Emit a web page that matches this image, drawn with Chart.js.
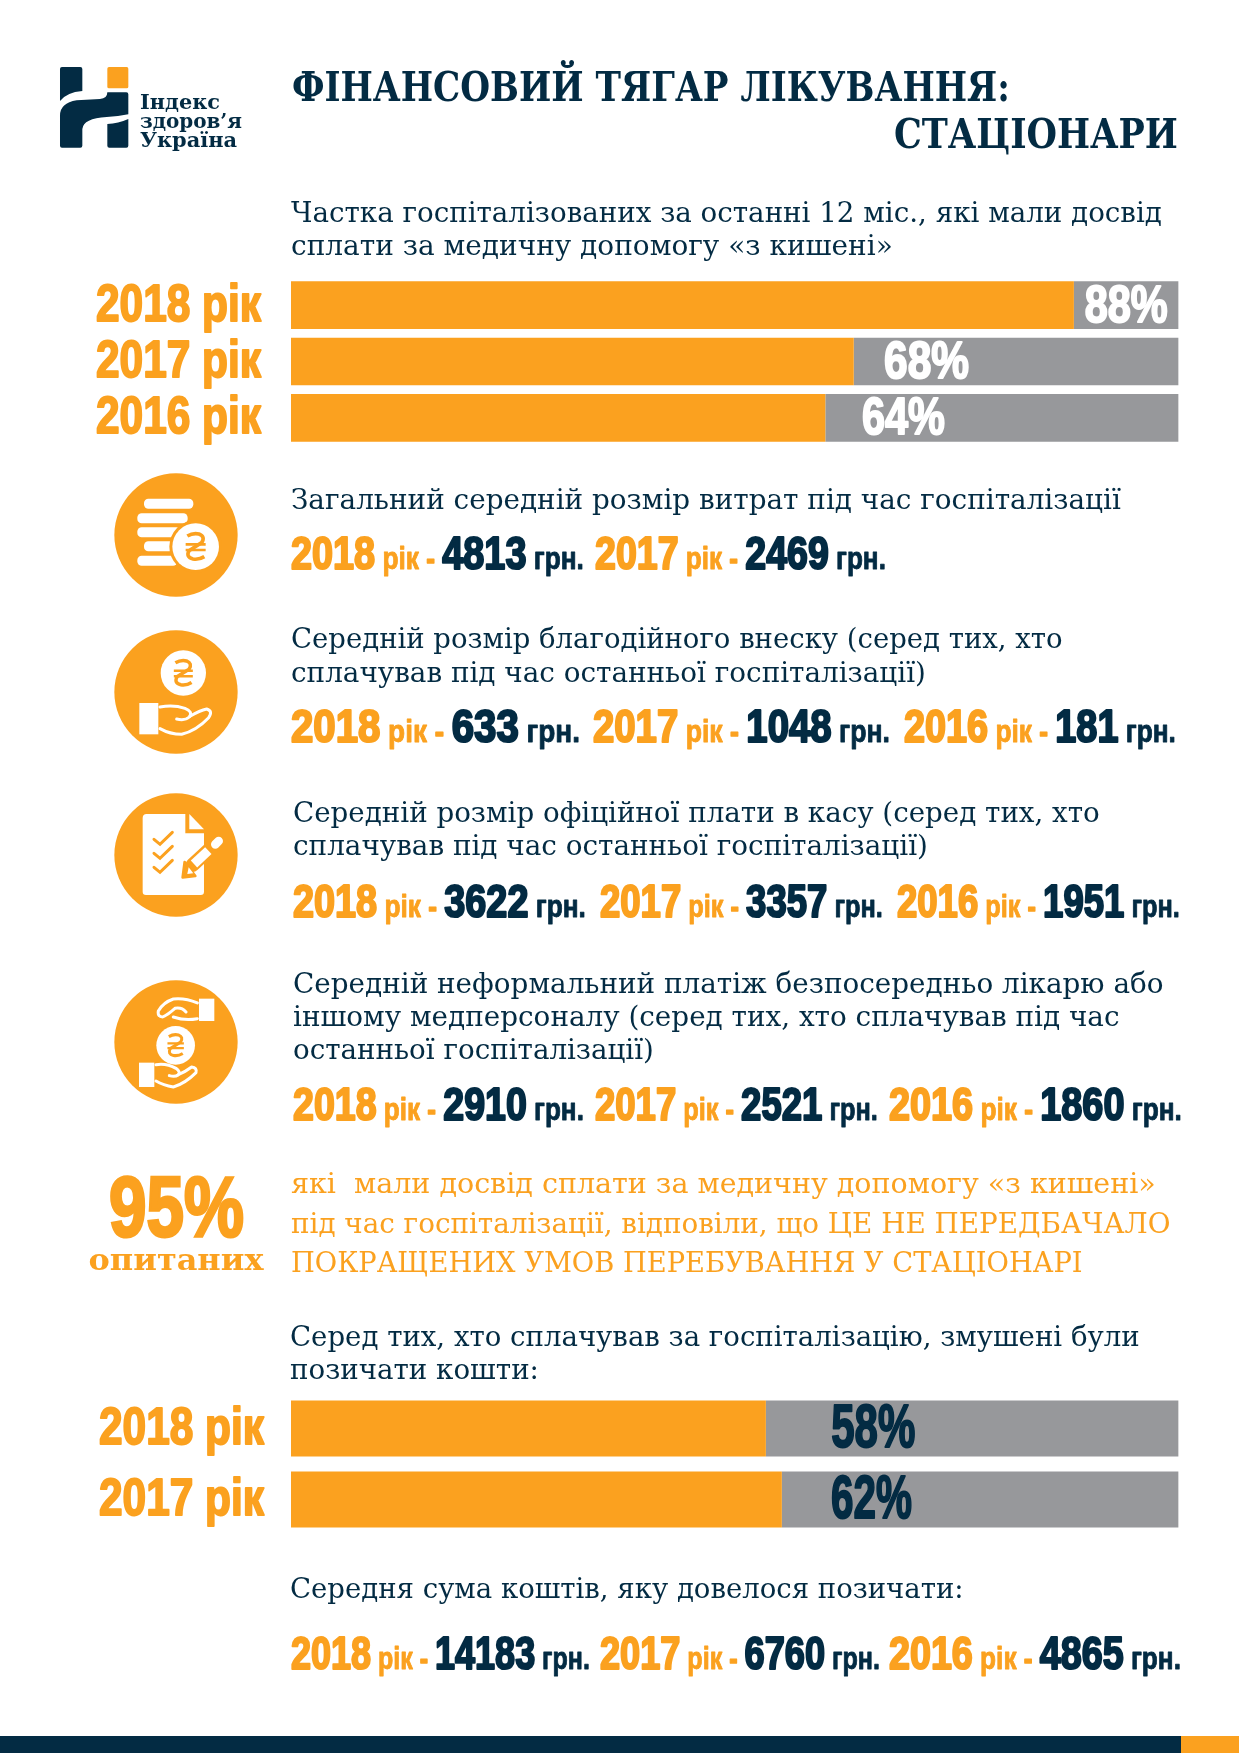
<!DOCTYPE html>
<html lang="uk"><head><meta charset="utf-8"><title>Фінансовий тягар лікування: стаціонари</title>
<script src="https://cdn.jsdelivr.net/npm/chart.js@4"></script>
<style>
html,body{margin:0;padding:0;background:#fff;width:1239px;height:1753px;overflow:hidden}
canvas{position:absolute;left:0;display:block}
#page{position:absolute;left:0;top:0;width:1239px;height:1753px;pointer-events:none}
</style></head><body>
<canvas id="shareChart" width="1239" height="169" style="top:277px"></canvas>
<canvas id="borrowChart" width="1239" height="142" style="top:1393px"></canvas>
<svg id="page" xmlns="http://www.w3.org/2000/svg" viewBox="0 0 1239 1753"></svg>
<script>
/* ---------- data ---------- */
const shareCategories = ['2018 рік', '2017 рік', '2016 рік'];
const sharePaidBar    = [88.2, 63.4, 60.2];
const shareRestBar    = [11.8, 36.6, 39.8];
const shareLabels     = ['88%', '68%', '64%'];

const borrowCategories = ['2018 рік', '2017 рік'];
const borrowPaidBar    = [53.5, 55.3];
const borrowRestBar    = [46.5, 44.7];
const borrowLabels     = ['58%', '62%'];

const totalYears     = ['2018', '2017'];
const totalCosts     = ['4813', '2469'];
const charityYears   = ['2018', '2017', '2016'];
const charityCosts   = ['633', '1048', '181'];
const officialYears  = ['2018', '2017', '2016'];
const officialCosts  = ['3622', '3357', '1951'];
const informalYears  = ['2018', '2017', '2016'];
const informalCosts  = ['2910', '2521', '1860'];
const borrowedYears  = ['2018', '2017', '2016'];
const borrowedCosts  = ['14183', '6760', '4865'];

/* ---------- styles ---------- */
const ORANGE = '#FBA11F', NAVY = '#032B43', GREY = '#97989B';
const HEAVY = "'Liberation Sans',sans-serif";
const SERIF = "'DejaVu Serif Condensed','DejaVu Serif',serif";

/* ---------- charts ---------- */
function squeezed(ctx, text, x, y, width, size, color, stroke, align) {
  ctx.save();
  ctx.font = 'bold ' + size + 'px ' + HEAVY;
  const sx = width / ctx.measureText(text).width;
  ctx.translate(x, y);
  ctx.scale(sx, 1);
  ctx.textAlign = align;
  ctx.textBaseline = 'middle';
  ctx.fillStyle = color;
  ctx.strokeStyle = color;
  ctx.lineWidth = stroke;
  ctx.lineJoin = 'round';
  ctx.strokeText(text, 0, 0);
  ctx.fillText(text, 0, 0);
  ctx.restore();
}
/* the condensed display face has to be drawn squeezed: labels come from the scale and dataset options */
const barLabels = {
  id: 'barLabels',
  afterDatasetsDraw(chart, args, o) {
    const ctx = chart.ctx, xs = chart.scales.x, ys = chart.scales.y;
    ys.ticks.forEach((tick, i) => {
      const y = ys.getPixelForTick(i);
      squeezed(ctx, ys.getLabelForValue(tick.value), o.tickRight, y + 1, 165, 52, ORANGE, 2, 'right');
      squeezed(ctx, o.texts[i], xs.getPixelForValue(o.at[i]), y + 2, o.widths[i], o.size, o.color, 2, 'center');
    });
  }
};
function stackedBar(id, cats, paid, rest, barPct, lab) {
  new Chart(document.getElementById(id), {
    type: 'bar',
    data: { labels: cats, datasets: [
      { data: paid, backgroundColor: ORANGE, barPercentage: barPct, categoryPercentage: 1 },
      { data: rest, backgroundColor: GREY,   barPercentage: barPct, categoryPercentage: 1 }
    ]},
    plugins: [barLabels],
    options: {
      indexAxis: 'y', responsive: false, animation: false, devicePixelRatio: 1,
      layout: { padding: { left: 0, right: 60.4, top: 0, bottom: 0 } },
      plugins: { legend: { display: false }, tooltip: { enabled: false }, barLabels: lab },
      scales: {
        x: { display: false, stacked: true, min: 0, max: 100 },
        y: { stacked: true, grid: { display: false, drawTicks: false }, border: { display: false },
             afterFit(s) { s.width = 291; s.paddingTop = 0; s.paddingBottom = 0; },
             ticks: { autoSkip: false, display: false } }
      }
    }
  });
}
stackedBar('shareChart', shareCategories, sharePaidBar, shareRestBar, 0.846,
  { tickRight: 261, texts: shareLabels, at: [94.1, 71.6, 69.0], widths: [83, 85, 83], size: 52, color: '#fff' });
stackedBar('borrowChart', borrowCategories, borrowPaidBar, borrowRestBar, 0.789,
  { tickRight: 264, texts: borrowLabels, at: [65.6, 65.4], widths: [84, 81], size: 61, color: NAVY });

/* ---------- page furniture ---------- */
const svg = document.getElementById('page'), NS = 'http://www.w3.org/2000/svg';
function el(name, attrs, parent) {
  const n = document.createElementNS(NS, name);
  for (const k in attrs) n.setAttribute(k, attrs[k]);
  (parent || svg).appendChild(n);
  return n;
}
/* text fitted to a measured width */
function line(text, x, base, w, opt) {
  opt = opt || {};
  const g = el('g', {});
  const t = el('text', { x: 0, y: 0, 'font-family': opt.family || SERIF, 'font-size': opt.size || 28,
    'font-weight': opt.weight || 'normal', fill: opt.color || NAVY }, g);
  t.style.whiteSpace = 'pre';
  t.textContent = text;
  const sx = w / t.getComputedTextLength();
  g.setAttribute('transform', 'translate(' + x + ' ' + base + ') scale(' + sx + ' 1)');
  return t;
}
/* several stacked lines kept in one text element, each fitted to a width */
function stack(rows, opt) {
  const t = el('text', { 'font-family': SERIF, 'font-weight': 'bold', fill: opt.color });
  t.style.whiteSpace = 'pre';
  rows.forEach(r => {
    const s = el('tspan', { x: r.x, y: r.base, 'font-size': r.size, 'font-family': r.family || SERIF,
      textLength: r.w, lengthAdjust: 'spacingAndGlyphs' }, t);
    if (r.stroke) { s.setAttribute('stroke', opt.color); s.setAttribute('stroke-width', r.stroke); }
    s.textContent = r.text;
  });
}
/* "2018 рік - 4813 грн." fitted block */
function stat(year, value, x, base, w) {
  const g = el('g', {});
  const t = el('text', { x: 0, y: 0, 'font-family': HEAVY, 'font-weight': 'bold', 'stroke-linejoin': 'round' }, g);
  t.style.whiteSpace = 'pre';
  [[year, 46, ORANGE, 2.2], [' рік', 32, ORANGE, 0.9], [' - ', 32, ORANGE, 1.4],
   [value, 46, NAVY, 2.2], [' грн.', 32, NAVY, 0.9]].forEach(p => {
    const s = el('tspan', { 'font-size': p[1], fill: p[2], stroke: p[2], 'stroke-width': p[3] }, t);
    s.textContent = p[0];
  });
  const sx = w / t.getComputedTextLength();
  g.setAttribute('transform', 'translate(' + x + ' ' + base + ') scale(' + sx + ' 1)');
}
function statRow(years, values, spans, base) {
  years.forEach((y, i) => stat(y, values[i], spans[i][0], base, spans[i][1] - spans[i][0]));
}

/* footer */
el('rect', { x: 0, y: 1736, width: 1181, height: 17, fill: NAVY });
el('rect', { x: 1181, y: 1736, width: 58, height: 17, fill: ORANGE });

/* logo */
const logo = el('g', { transform: 'translate(50 55) scale(0.3333)' });
el('path', { fill: NAVY, d: 'M30 42Q30 36 36 36H91Q97 36 97 42V108Q50 112 30 138Z' }, logo);
el('path', { fill: NAVY, d: 'M172 112H229Q235 112 235 118V178Q205 184 170 186Q100 190 97 222V272Q97 278 91 278H36Q30 278 30 272V182Q30 144 80 136L150 132Q172 130 172 112Z' }, logo);
el('path', { fill: NAVY, d: 'M172 207Q205 205 235 192V272Q235 278 229 278H178Q172 278 172 272Z' }, logo);
el('rect', { x: 172, y: 36, width: 63, height: 64, rx: 5, fill: ORANGE }, logo);
stack([
  { text: 'Індекс',   x: 140, base: 109,   w: 80,  size: 21 },
  { text: 'здоров’я', x: 140, base: 127.5, w: 102, size: 21 },
  { text: 'Україна',  x: 140, base: 146.5, w: 97,  size: 21 }
], { color: NAVY });

/* title */
line('ФІНАНСОВИЙ ТЯГАР ЛІКУВАННЯ:', 292, 101, 718, { size: 41, weight: 'bold' });
line('СТАЦІОНАРИ', 894, 148, 284, { size: 41, weight: 'bold' });

/* section texts */
line('Частка госпіталізованих за останні 12 міс., які мали досвід', 291, 222, 871);
line('сплати за медичну допомогу «з кишені»', 291, 255, 602);

line('Загальний середній розмір витрат під час госпіталізації', 291, 509, 830);
statRow(totalYears, totalCosts, [[291, 584], [595, 886]], 569);

line('Середній розмір благодійного внеску (серед тих, хто', 291, 648, 772);
line('сплачував під час останньої госпіталізації)', 291, 681.5, 635);
statRow(charityYears, charityCosts, [[291, 580], [593, 890], [904, 1176]], 742);

line('Середній розмір офіційної плати в касу (серед тих, хто', 293, 822, 807);
line('сплачував під час останньої госпіталізації)', 293, 854.5, 635);
statRow(officialYears, officialCosts, [[293, 586], [600, 883], [897, 1180]], 917);

line('Середній неформальний платіж безпосередньо лікарю або', 293, 993, 871);
line('іншому медперсоналу (серед тих, хто сплачував під час', 293, 1026, 827);
line('останньої госпіталізації)', 293, 1059, 361);
statRow(informalYears, informalCosts, [[293, 584], [595, 878], [889, 1182]], 1120);

/* 95 % block */
stack([
  { text: '95%', x: 109, base: 1236, w: 135, size: 86, family: HEAVY, stroke: 3 },
  { text: 'опитаних', x: 88.5, base: 1270, w: 175, size: 30 }
], { color: ORANGE });
line('які  мали досвід сплати за медичну допомогу «з кишені»', 291, 1193, 865, { color: ORANGE });
line('під час госпіталізації, відповіли, що ЦЕ НЕ ПЕРЕДБАЧАЛО', 291, 1233, 880, { color: ORANGE });
line('ПОКРАЩЕНИХ УМОВ ПЕРЕБУВАННЯ У СТАЦІОНАРІ', 291, 1272, 792, { color: ORANGE });

line('Серед тих, хто сплачував за госпіталізацію, змушені були', 290, 1346, 850);
line('позичати кошти:', 290, 1379, 249);
line('Середня сума коштів, яку довелося позичати:', 290, 1598, 674);
statRow(borrowedYears, borrowedCosts, [[291, 590], [600, 880], [889, 1181]], 1669);

/* round icons: drawn in a 390-unit box, 130px on the page */
function icon(x, y) {
  const g = el('g', { transform: 'translate(' + x + ' ' + y + ') scale(0.3333)' });
  el('circle', { cx: 198, cy: 195, r: 185, fill: ORANGE }, g);
  return g;
}
function hryvnia(g, cx, cy, k) {
  const h = el('g', { transform: 'translate(' + cx + ' ' + cy + ') scale(' + k + ')', fill: 'none', stroke: ORANGE, 'stroke-width': 11 }, g);
  el('path', { d: 'M-25 -32Q-8 -42 10 -38Q30 -30 18 -12L-20 12Q-30 32 -8 37Q10 40 26 30' }, h);
  el('path', { d: 'M-30 -7H30M-30 10H30', 'stroke-width': 8 }, h);
}
function hand(g, d1, d2) {
  el('path', { d: d1, fill: 'none', stroke: '#fff', 'stroke-width': 9, 'stroke-linejoin': 'round', 'stroke-linecap': 'round' }, g);
  if (d2) el('path', { d: d2, fill: 'none', stroke: '#fff', 'stroke-width': 9, 'stroke-linejoin': 'round', 'stroke-linecap': 'round' }, g);
}
/* coins */
let g = icon(110, 470);
[[102, 86, 148], [82, 130, 151], [82, 172, 130], [102, 214, 90], [82, 257, 120]].forEach(b =>
  el('rect', { x: b[0], y: b[1], width: b[2], height: 30, rx: 13, fill: '#fff' }, g));
el('circle', { cx: 257, cy: 230, r: 79, fill: ORANGE }, g);
el('circle', { cx: 257, cy: 230, r: 70, fill: '#fff' }, g);
hryvnia(g, 257, 230, 1);
/* hand with coin */
g = icon(110, 627);
el('circle', { cx: 220, cy: 138, r: 68, fill: '#fff' }, g);
hryvnia(g, 220, 138, 0.95);
el('rect', { x: 88, y: 228, width: 57, height: 94, fill: '#fff' }, g);
hand(g, 'M150 240Q190 232 225 244Q250 254 238 270Q225 282 200 276', 'M240 268Q270 250 290 246Q310 252 296 272Q260 310 215 322Q180 322 150 305');
/* invoice */
g = icon(110, 790);
el('path', { fill: '#fff', d: 'M110 72H226V130H282V305Q282 315 272 315H108Q98 315 98 305V84Q98 72 110 72Z' }, g);
el('path', { fill: '#fff', d: 'M238 72L282 118H238Z' }, g);
['M132 148L150 163L187 127', 'M132 190L150 205L187 169', 'M132 232L150 247L187 211'].forEach(d =>
  el('path', { d, fill: 'none', stroke: ORANGE, 'stroke-width': 9, 'stroke-linecap': 'round' }, g));
el('path', { d: 'M318 160L248 225', stroke: ORANGE, 'stroke-width': 42, 'stroke-linecap': 'round', fill: 'none' }, g);
el('path', { d: 'M224 216L256 258L218 262Z', fill: ORANGE, stroke: ORANGE, 'stroke-width': 8, 'stroke-linejoin': 'round' }, g);
el('path', { d: 'M295 182L252 222', stroke: '#fff', 'stroke-width': 28, fill: 'none' }, g);
el('path', { d: 'M326 153L316 163', stroke: '#fff', 'stroke-width': 26, 'stroke-linecap': 'round', fill: 'none' }, g);
el('path', { d: 'M236 232L250 250L232 252Z', fill: '#fff' }, g);
/* exchange */
g = icon(110, 977);
el('circle', { cx: 197, cy: 205, r: 58, fill: '#fff' }, g);
hryvnia(g, 197, 205, 0.82);
el('rect', { x: 267, y: 65, width: 46, height: 67, fill: '#fff' }, g);
hand(g, 'M262 78Q225 62 190 66Q160 76 145 102Q142 120 158 120Q175 112 195 94Q215 90 228 105', 'M262 125Q225 132 190 120');
el('rect', { x: 87, y: 257, width: 46, height: 73, fill: '#fff' }, g);
hand(g, 'M138 263Q170 258 198 274Q214 286 204 294Q195 301 178 296', 'M205 293Q225 285 245 270Q262 272 258 287Q225 320 190 330Q160 325 138 312');
</script>
</body></html>
